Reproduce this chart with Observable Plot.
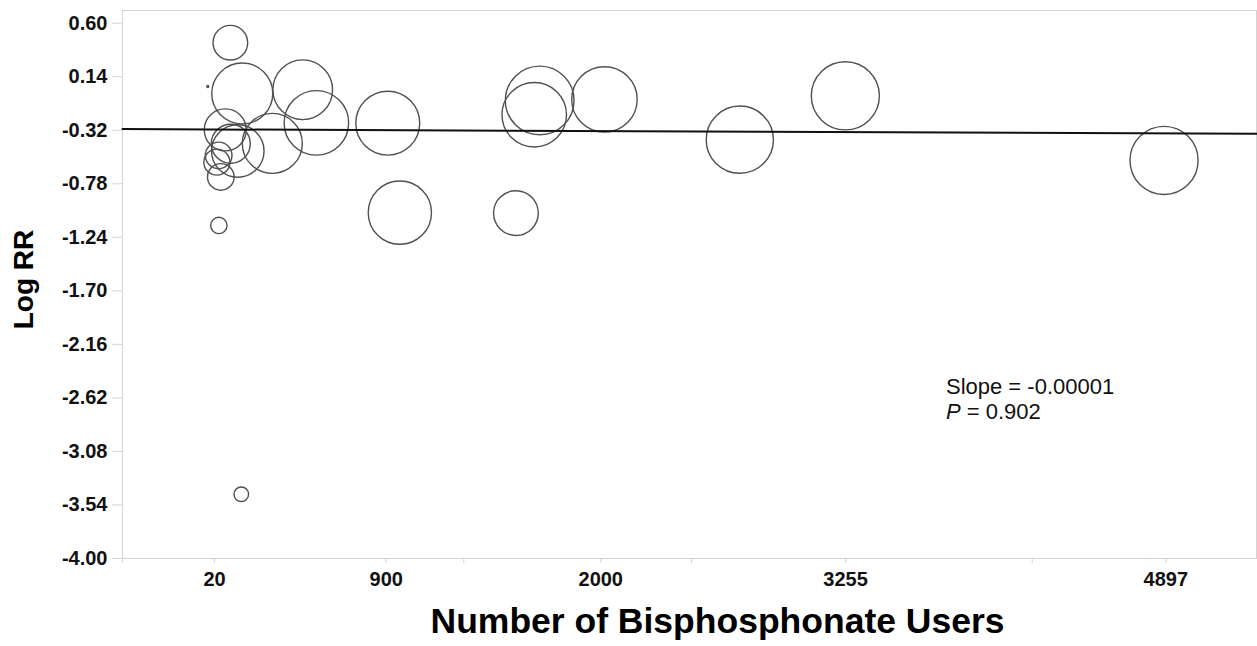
<!DOCTYPE html>
<html><head><meta charset="utf-8">
<script src="https://cdn.jsdelivr.net/npm/d3@7"></script>
<script src="https://cdn.jsdelivr.net/npm/@observablehq/plot@0.6"></script>
<style>
html,body{margin:0;padding:0;background:#fff;}
#chart svg{font-family:"Liberation Sans",Arial,Helvetica,sans-serif;}
</style></head><body><div id="chart"></div>
<script>
// Studies: number of bisphosphonate users, log RR, study weight (bubble area)
const users  = [101, 162, 472, 542, 908, 316, 75, 103, 139, 41, 32, 52, 42, 157, 970, 1687, 1659, 2019, 1565, 2713, 3254, 4888, -15];
const logRR  = [0.432, -0.004, 0.028, -0.257, -0.259, -0.433, -0.317, -0.436, -0.498, -0.536, -0.594, -0.721, -1.138, -3.448, -1.028, -0.064, -0.187, -0.055, -1.032, -0.401, -0.024, -0.579, 0.056];
const weight = [30, 93, 89, 104, 102, 90, 44, 38, 69, 17.7, 17, 17.7, 6.7, 5.3, 100, 118, 104, 107, 50, 113, 116, 116, 0.1];

const xTicks = [20, 900, 2000, 3255, 4897];
const xMinorTicks = [-452, 1298, 2465, 4212];
const yTicks = [0.60, 0.14, -0.32, -0.78, -1.24, -1.70, -2.16, -2.62, -3.08, -3.54, -4.00];
const xDomain = [-452, 5362];
const yDomain = [-4.00, 0.709];

// meta-regression fit line endpoints
const fitX = [-452, 5362];
const fitY = [-0.310, -0.350];

const annotation = "Slope = -0.00001\nP = 0.902";
const annotX = 3770, annotY = -2.435;

const studies = users.map((u, i) => ({users: u, logRR: logRR[i], weight: weight[i]}));
const fit = fitX.map((x, i) => ({x, y: fitY[i]}));

const font = '"Liberation Sans", Arial, Helvetica, sans-serif';

const chart = Plot.plot({
  width: 1257, height: 646,
  marginLeft: 122, marginRight: 1, marginTop: 10, marginBottom: 88,
  style: {fontFamily: font, background: "white", color: "#111"},
  x: {domain: xDomain},
  y: {domain: yDomain},
  r: {type: "sqrt", domain: [0, 120], range: [0, 34.64]},
  marks: [
    Plot.frame({stroke: "#d4d4d4"}),
    Plot.axisY(yTicks, {tickSize: 10, tickPadding: 5, stroke: "#d4d4d4", fill: "#111", fontSize: 20, fontWeight: "bold", tickFormat: d => d.toFixed(2), label: null}),
    Plot.axisX(xMinorTicks, {tickSize: 5, stroke: "#d4d4d4", tickFormat: () => "", label: null}),
    Plot.axisX(xTicks, {tickSize: 5, tickPadding: 8, stroke: "#d4d4d4", fill: "#111", fontSize: 20, fontWeight: "bold", tickFormat: d => String(d), label: null}),
    Plot.dot(studies, {x: "users", y: "logRR", r: "weight", stroke: "#505050", strokeWidth: 1.4, fill: "none"}),
    Plot.line(fit, {x: "x", y: "y", stroke: "#111", strokeWidth: 2}),
    Plot.text(["Log RR"], {text: d => d, frameAnchor: "left", textAnchor: "middle", dx: -98, dy: -5, rotate: -90, fontSize: 28, fontWeight: "bold", fill: "#000"}),
    Plot.text(["Number of Bisphosphonate Users"], {text: d => d, frameAnchor: "bottom", dx: 28, dy: 74, fontSize: 35.5, fontWeight: "bold", fill: "#000"}),
    Plot.text([annotation], {text: d => d, x: () => annotX, y: () => annotY, textAnchor: "start", lineAnchor: "top", fontSize: 22, lineHeight: 1.12, fill: "#111"})
  ]
});

document.getElementById("chart").appendChild(chart);

// italicize the "P" in the annotation
d3.select(chart).selectAll("tspan").each(function() {
  if (this.textContent === "P = 0.902") {
    const t = d3.select(this);
    t.text(null);
    t.append("tspan").attr("font-style", "italic").text("P");
    t.append("tspan").text(" = 0.902");
  }
});
</script>
</body></html>
